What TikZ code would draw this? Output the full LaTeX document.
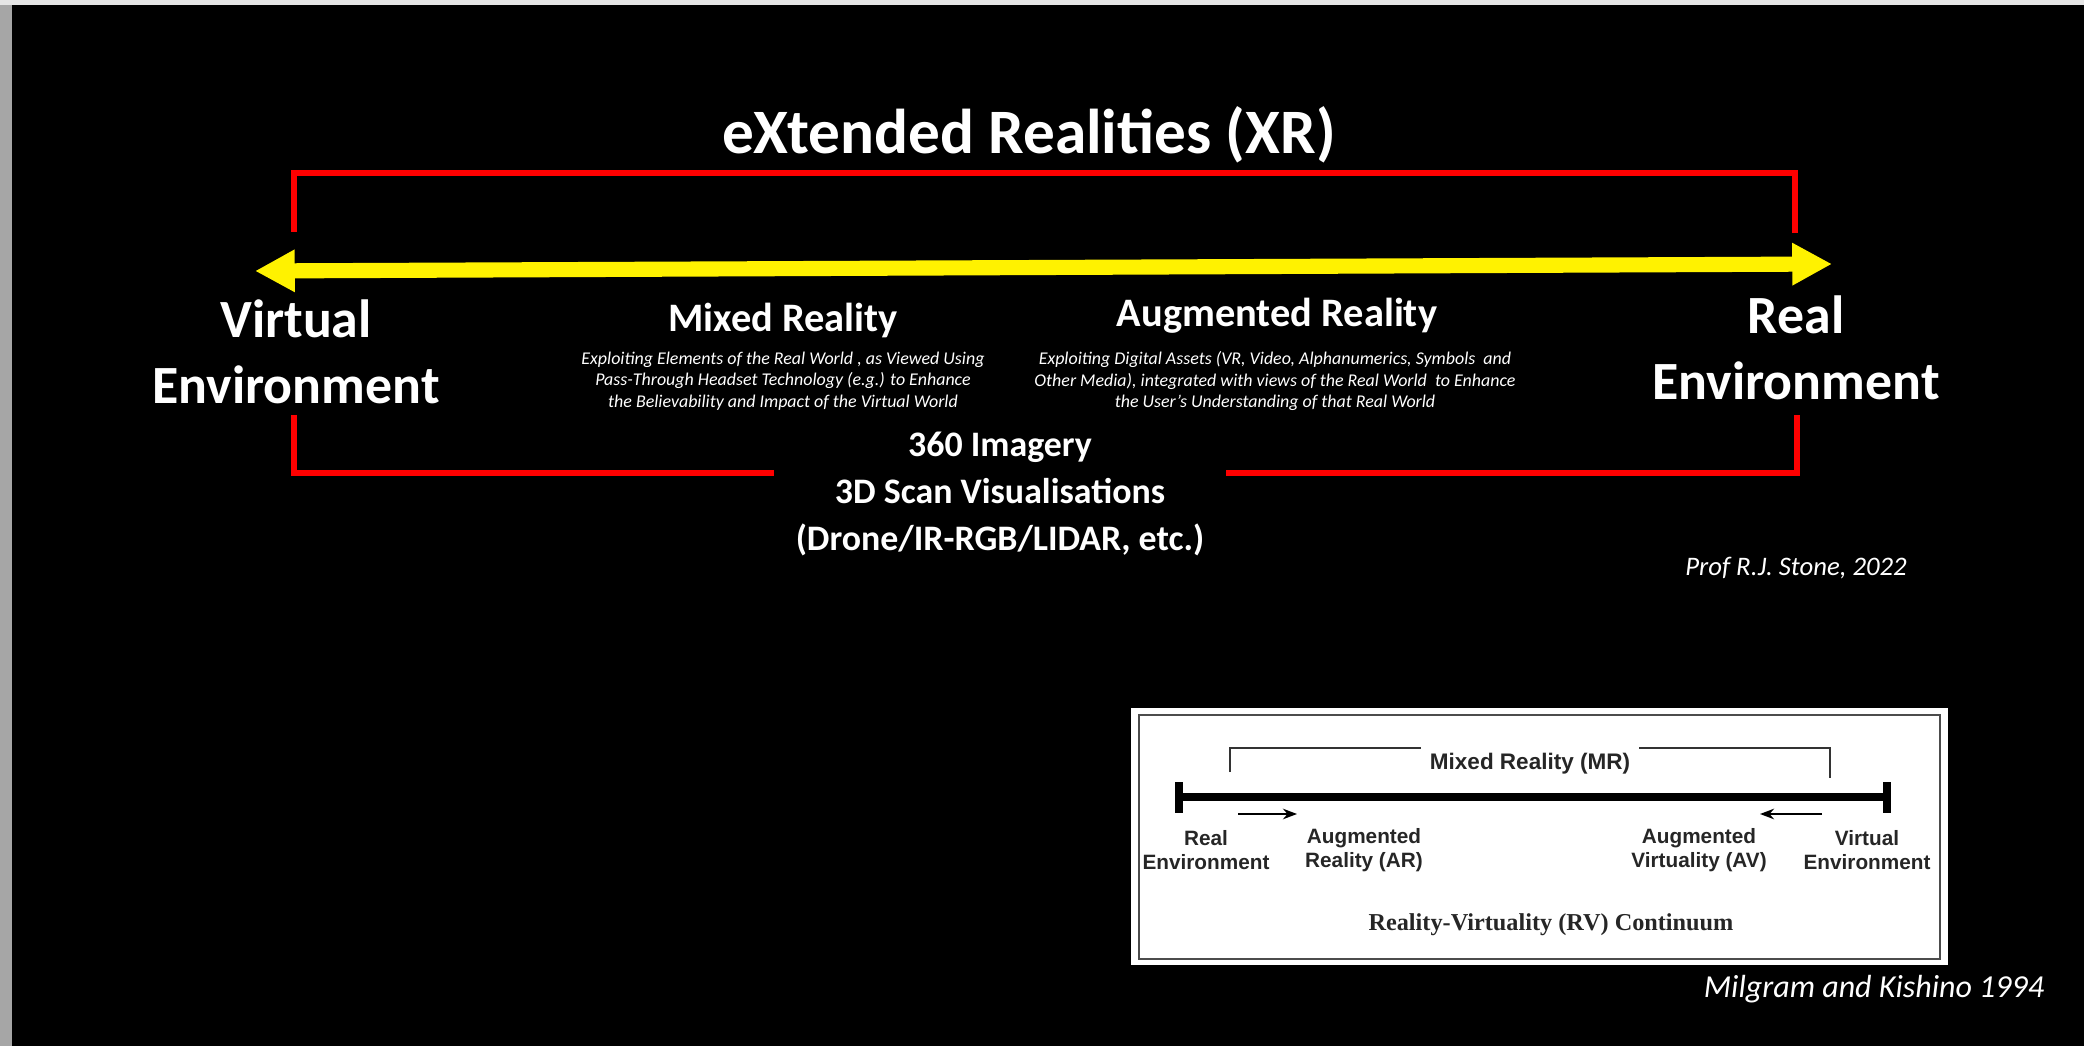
\documentclass[tikz,border=0pt]{standalone}
\usepackage{fontspec}
\setmainfont{Carlito}
\newfontfamily\arialfont{Liberation Sans}
\newfontfamily\timesfont{Liberation Serif}
\usetikzlibrary{arrows.meta,positioning}

\begin{document}
\begin{tikzpicture}[x=0.01cm,y=-0.01cm,
  env/.style={text=white,font=\fontsize{15.3}{18.7}\selectfont\bfseries,align=center,inner sep=0pt},
  head/.style={text=white,font=\fontsize{11.5}{13}\selectfont\bfseries,inner sep=0pt},
  desc/.style={text=white,font=\fontsize{5.1}{6.1}\selectfont\itshape,align=center,inner sep=0pt},
  bracket/.style={red,line width=1.8pt},
  small/.style={text=black!85,font=\arialfont\fontsize{5.9}{6.8}\selectfont\bfseries,align=center,inner sep=0pt}]
  \useasboundingbox (0,0) rectangle (2084,1046);
  \fill[black!35] (0,0) rectangle (2084,1046);
  \fill[black!10] (0,0) rectangle (2084,5);
  \fill[black] (12,5) rectangle (2084,1046);

  \node[text=white,font=\fontsize{18}{20}\selectfont\bfseries] (xr) at (1029,135) {eXtended Realities (XR)};
  \node[env] (ve) at (296,352) {Virtual\\Environment};
  \node[env] (re) at (1796,348) {Real\\Environment};
  \node[head] (mr) at (783,320) {Mixed Reality};
  \node[desc] (mrtxt) at (783,381) {Exploiting Elements of the Real World , as Viewed Using\\Pass-Through Headset Technology (e.g.) to Enhance\\the Believability and Impact of the Virtual World};
  \node[head] (ar) at (1277,316) {Augmented Reality};
  \node[desc] (artxt) at (1275,381) {Exploiting Digital Assets (VR, Video, Alphanumerics, Symbols\ \ and\\Other Media), integrated with views of the Real World\ \ to Enhance\\the User’s Understanding of that Real World};
  \node[text=white,font=\fontsize{10.2}{13.4}\selectfont\bfseries,align=center,inner xsep=6pt,inner ysep=0pt] (scan) at (1000,494) {360 Imagery\\3D Scan Visualisations\\(Drone/IR-RGB/LIDAR, etc.)};
  \node[text=white,font=\fontsize{7.6}{9}\selectfont\itshape] (stone) at (1796,568) {Prof R.J. Stone, 2022};
  \node[text=white,font=\fontsize{9.1}{11}\selectfont\itshape] (mk) at (1874,989) {Milgram and Kishino 1994};

  \coordinate (tl) at (294,173);
  \coordinate (tr) at (1795,173);
  \coordinate (bl) at (294,473);
  \coordinate (br) at (1797,473);
  \draw[bracket] (294,232) -- (tl) -- (tr) -- (1795,233);
  \draw[bracket] (294,415) -- (bl) -- (bl -| scan.west);
  \draw[bracket] (scan.east |- br) -- (br) -- (1797,415);

  \coordinate (ltip) at (255,271);
  \coordinate (rtip) at (1832,264);
  \draw[yellow,line width=4.3pt,{Triangle[length=11.3pt,width=11.3pt]}-{Triangle[length=11.3pt,width=11.3pt]}] (ltip) -- (rtip);

  \fill[white] (1131,708) rectangle (1948,965);
  \draw[black!70,line width=0.6pt] (1139,715) rectangle (1940,959);
  \node[small,font=\arialfont\fontsize{6.4}{7}\selectfont\bfseries,inner xsep=2.4pt] (mrb) at (1530,764) {Mixed Reality (MR)};
  \coordinate (mrl) at (1230,748);
  \coordinate (mrr) at (1830,748);
  \draw[black!80,line width=0.5pt] (1230,772) -- (mrl) -- (mrl -| mrb.west);
  \draw[black!80,line width=0.5pt] (mrb.east |- mrr) -- (mrr) -- (1830,778);
  \coordinate (rl) at (1179,797);
  \coordinate (vl) at (1887,797);
  \draw[line width=2pt] (rl) -- (vl);
  \draw[line width=2.2pt] (1179,782) -- (1179,813);
  \draw[line width=2.2pt] (1887,782) -- (1887,813);
  \draw[-{Stealth[length=4pt,width=3pt]},line width=0.6pt] (1238,814) -- (1297,814);
  \draw[-{Stealth[length=4pt,width=3pt]},line width=0.6pt] (1822,814) -- (1760,814);
  \node[small] (rev) at (1206,850) {Real\\Environment};
  \node[small] (arl) at (1364,850) {Augmented\\Reality (AR)};
  \node[small] (avl) at (1699,850) {Augmented\\Virtuality (AV)};
  \node[small] (vev) at (1867,850) {Virtual\\Environment};
  \node[text=black!85,font=\timesfont\fontsize{6.9}{8}\selectfont\bfseries] (rv) at (1551,925) {Reality-Virtuality (RV) Continuum};
\end{tikzpicture}
\end{document}
